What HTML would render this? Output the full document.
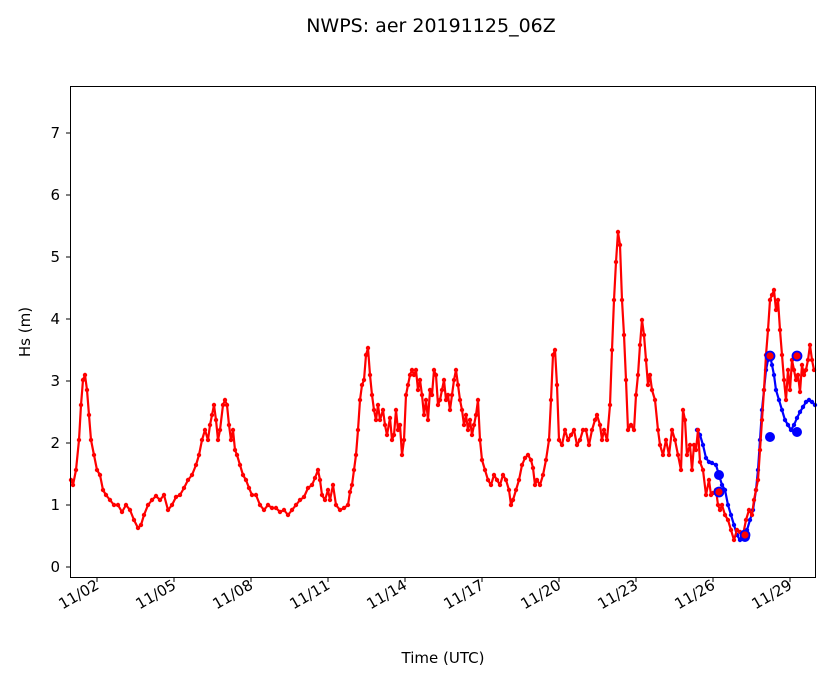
<!DOCTYPE html>
<html><head><meta charset="utf-8"><style>
body{margin:0;background:#fff;}
svg text{font-family:"DejaVu Sans","Liberation Sans",sans-serif;fill:#000;}
</style></head><body>
<svg id="s" width="833" height="681" viewBox="0 0 833 681" xmlns="http://www.w3.org/2000/svg">
<rect width="833" height="681" fill="#fff"/>
<text x="431" y="32" font-size="19" text-anchor="middle">NWPS: aer 20191125_06Z</text>
<g id="plot"></g>
<rect x="70.5" y="86.5" width="745" height="491" fill="none" stroke="#000" stroke-width="1"/>
<g font-size="15" text-anchor="end" id="yt"></g>
<g font-size="15" id="xt"></g>
<text x="443" y="663" font-size="15" text-anchor="middle">Time (UTC)</text>
<text transform="translate(30,332) rotate(-90)" font-size="15" text-anchor="middle">Hs (m)</text>
</svg>
<script>
var NS="http://www.w3.org/2000/svg";
function el(t,a,p){var e=document.createElementNS(NS,t);for(var k in a)e.setAttribute(k,a[k]);(p||document.getElementById('plot')).appendChild(e);return e;}
var yt=document.getElementById('yt'),xt=document.getElementById('xt');
for(var i=0;i<=7;i++){var y=567-62*i;el('line',{x1:66,x2:70,y1:y,y2:y,stroke:'#000'},yt);var t=el('text',{x:60,y:y+5},yt);t.textContent=i;}
var labs=['11/02','11/05','11/08','11/11','11/14','11/17','11/20','11/23','11/26','11/29'];
for(var i=0;i<labs.length;i++){var x=97+i*77;el('line',{x1:x,x2:x,y1:578,y2:582,stroke:'#000'},xt);var t=el('text',{x:0,y:0,'text-anchor':'end',transform:'translate('+(x+3)+',588) rotate(-30)'},xt);t.textContent=labs[i];}
var r=[71,480,73,485,76,470,79,440,81,405,83,380,85,375,87,390,89,415,91,440,94,455,97,470,100,475,103,490,106,495,110,500,114,505,118,505,122,512,126,505,130,510,134,520,138,528,141,525,144,515,148,505,152,500,156,496,160,500,164,495,168,510,172,505,176,497,180,495,184,488,188,480,192,475,196,465,199,455,202,440,205,430,208,440,210,425,212,415,214,405,216,420,218,440,220,430,223,405,225,400,227,405,229,425,231,440,233,430,235,450,237,455,240,465,243,475,246,480,249,488,252,495,256,495,260,505,264,510,268,505,272,508,276,508,280,512,284,510,288,515,292,510,296,505,300,500,304,497,308,488,312,485,315,478,318,470,320,480,322,495,325,500,328,490,330,500,333,485,336,505,340,510,344,508,348,505,350,492,352,485,354,470,356,455,358,430,360,400,362,385,364,380,366,355,368,348,370,375,372,395,374,410,376,420,378,405,380,420,383,410,385,425,387,435,390,418,392,440,394,435,396,410,398,430,400,425,402,455,404,440,406,395,408,385,410,375,412,370,414,375,416,370,418,390,420,380,422,395,424,415,426,400,428,420,430,390,432,395,434,370,436,375,438,405,440,400,442,390,444,380,446,400,448,395,450,410,452,395,454,380,456,370,458,385,460,400,462,410,464,425,466,415,468,430,470,420,472,435,474,425,476,415,478,400,480,440,482,460,485,470,488,480,491,485,494,475,497,480,500,485,503,475,506,480,509,490,511,505,513,500,516,490,519,480,522,465,525,458,528,455,531,460,533,468,535,485,537,480,540,485,543,475,546,460,549,440,551,400,553,355,555,350,557,385,559,440,562,445,565,430,568,440,571,435,574,430,577,445,580,440,583,430,586,430,589,445,592,430,595,420,597,415,600,425,602,440,604,430,607,440,610,405,612,350,614,300,616,262,618,232,620,245,622,300,624,335,626,380,628,430,631,425,634,430,636,395,638,375,640,345,642,320,644,335,646,360,648,385,650,375,652,390,655,400,658,430,660,445,663,455,666,440,669,455,672,430,675,440,678,455,681,470,683,410,685,420,687,455,690,445,692,470,694,445,696,450,698,430,700,462,703,470,706,495,709,480,711,495,713,493,716,490,718,505,720,510,722,505,725,515,728,520,731,530,734,540,737,530,740,532,743,535,746,520,749,510,752,515,754,500,756,490,758,480,760,450,762,420,764,390,766,355,768,330,770,300,772,295,774,290,776,310,778,300,780,330,782,355,784,380,786,400,788,370,790,390,792,360,794,370,796,380,798,375,800,392,802,365,804,375,806,370,808,360,810,345,812,360,814,370];
var b=[697,430,700,435,703,445,706,458,709,462,712,463,716,465,719,475,722,485,725,490,728,505,731,515,734,525,737,535,740,540,744,537,747,530,750,520,753,510,756,490,758,470,760,440,762,410,764,390,766,370,768,360,770,355,772,365,774,375,776,390,779,400,782,410,785,420,788,425,791,430,794,425,797,418,800,412,803,407,806,402,809,400,812,402,815,405];
function series(p,c){var s='';for(var i=0;i<p.length;i+=2)s+=p[i]+','+p[i+1]+' ';
el('polyline',{points:s,fill:'none',stroke:c,'stroke-width':2.2,'stroke-linejoin':'round'});
for(var i=0;i<p.length;i+=2)el('circle',{cx:p[i],cy:p[i+1],r:2.2,fill:c});}
series(b,'#0000ff');series(r,'#ff0000');
[[770,437],[797,432],[719,475],[745,537]].forEach(function(q){el('circle',{cx:q[0],cy:q[1],r:5,fill:'#0000ff'});});
[[770,356],[797,356],[719,492],[745,535]].forEach(function(q){el('circle',{cx:q[0],cy:q[1],r:4.5,fill:'#ff0000',stroke:'#0000ff','stroke-width':1.8});});
</script>
</body></html>
